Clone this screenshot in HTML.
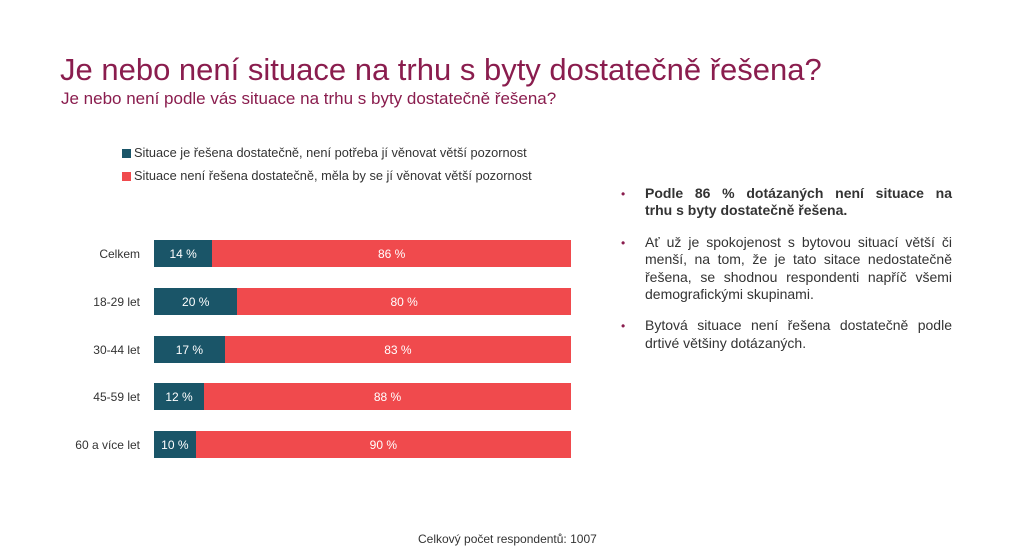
<!DOCTYPE html>
<html><head><meta charset="utf-8"><style>
body{margin:0;width:1024px;height:555px;background:#fff;position:relative;overflow:hidden;font-family:"Liberation Sans",sans-serif;}
.a{position:absolute;white-space:nowrap}
.t{left:60px;top:52px;font-size:31px;color:#8a1d4e;letter-spacing:0px}
.s{left:61px;top:89px;font-size:17px;color:#8a1d4e}
.lg{font-size:12.8px;color:#333}
.sq{display:inline-block;width:9px;height:9px;margin-right:3px;vertical-align:-1px}
.lab{font-size:12px;color:#333;width:130px;text-align:right;left:10px}
.bar{position:absolute;left:154px;width:417px;height:27px;display:flex;font-size:12px;color:#fff}
.bar div{display:flex;align-items:center;justify-content:center}
.d{background:#1a5568}.r{background:#f04a4d}
.txt{position:absolute;left:645px;width:307px;font-size:14px;line-height:17.4px;color:#333;text-align:justify}
.txt p{margin:0 0 14px 0;position:relative}
.txt p:before{content:"•";position:absolute;left:-24px;top:1px;color:#8a1d4e;font-size:12px}
.j{display:block;text-align:justify;text-align-last:justify}
</style></head><body>
<div class="a t">Je nebo není situace na trhu s byty dostatečně řešena?</div>
<div class="a s">Je nebo není podle vás situace na trhu s byty dostatečně řešena?</div>
<div class="a lg" style="left:122px;top:145px"><span class="sq d"></span>Situace je řešena dostatečně, není potřeba jí věnovat větší pozornost</div>
<div class="a lg" style="left:122px;top:168px"><span class="sq r"></span>Situace není řešena dostatečně, měla by se jí věnovat větší pozornost</div>

<div class="a lab" style="top:247px">Celkem</div>
<div class="bar" style="top:240px"><div class="d" style="width:14%">14 %</div><div class="r" style="width:86%">86 %</div></div>
<div class="a lab" style="top:295px">18-29 let</div>
<div class="bar" style="top:288px"><div class="d" style="width:20%">20 %</div><div class="r" style="width:80%">80 %</div></div>
<div class="a lab" style="top:343px">30-44 let</div>
<div class="bar" style="top:336px"><div class="d" style="width:17%">17 %</div><div class="r" style="width:83%">83 %</div></div>
<div class="a lab" style="top:390px">45-59 let</div>
<div class="bar" style="top:383px"><div class="d" style="width:12%">12 %</div><div class="r" style="width:88%">88 %</div></div>
<div class="a lab" style="top:438px">60 a více let</div>
<div class="bar" style="top:431px"><div class="d" style="width:10%">10 %</div><div class="r" style="width:90%">90 %</div></div>

<div class="txt" style="top:185px">
<p><b><span class="j">Podle 86 % dotázaných není situace na</span>trhu s byty dostatečně řešena.</b></p>
<p>Ať už je spokojenost s bytovou situací větší či menší, na tom, že je tato sitace nedostatečně řešena, se shodnou respondenti napříč všemi demografickými skupinami.</p>
<p>Bytová situace není řešena dostatečně podle drtivé většiny dotázaných.</p>
</div>
<div class="a" style="left:418px;top:532px;font-size:12px;color:#333">Celkový počet respondentů: 1007</div>
</body></html>
